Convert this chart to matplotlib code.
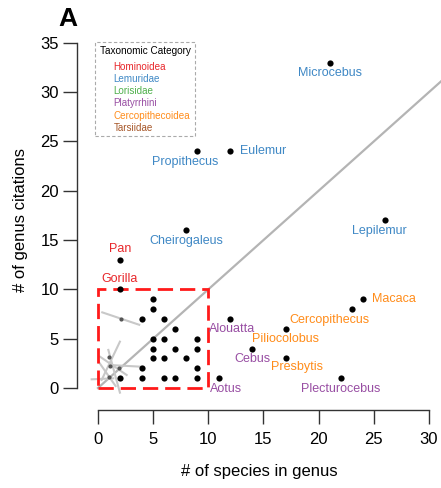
import matplotlib
matplotlib.use('Agg')
import matplotlib.pyplot as plt
from matplotlib.patches import Rectangle

plt.rcParams['font.family'] = ['Liberation Sans', 'DejaVu Sans']

W, H = 441, 488

# taxonomic groups and their colours
groups = ['Hominoidea', 'Lemuridae', 'Lorisidae', 'Platyrrhini',
          'Cercopithecoidea', 'Tarsiidae']
group_colors = ['#e8262a', '#3f88c5', '#4daf4a', '#984ea3', '#ff8c1a', '#a65628']

# labelled genera
genus = ['Microcebus', 'Propithecus', 'Eulemur', 'Cheirogaleus', 'Lepilemur',
         'Pan', 'Gorilla', 'Macaca', 'Cercopithecus', 'Piliocolobus',
         'Presbytis', 'Alouatta', 'Cebus', 'Aotus', 'Plecturocebus']
genus_group = ['Lemuridae', 'Lemuridae', 'Lemuridae', 'Lemuridae', 'Lemuridae',
               'Hominoidea', 'Hominoidea', 'Cercopithecoidea', 'Cercopithecoidea',
               'Cercopithecoidea', 'Cercopithecoidea', 'Platyrrhini',
               'Platyrrhini', 'Platyrrhini', 'Platyrrhini']
genus_species = [21, 9, 12, 8, 26, 2, 2, 24, 23, 17, 17, 12, 14, 11, 22]
genus_citations = [33, 24, 24, 16, 17, 13, 10, 9, 8, 6, 3, 7, 4, 1, 1]

# unlabelled genera inside the 10 x 10 box
other_species = [5, 5, 4, 6, 7, 5, 6, 9, 5, 7, 9, 5, 6, 8, 4, 9, 2, 4, 6, 7, 9]
other_citations = [9, 8, 7, 7, 6, 5, 5, 5, 4, 4, 4, 3, 3, 3, 2, 2, 1, 1, 1, 1, 1]

# faint genera piled up near the origin, with their repel segments
faint_species = [2.06, 1.0, 1.9, 1.0, 1.1]
faint_citations = [7.0, 3.1, 2.0, 1.1, 2.2]
seg_x0 = [0.39, 0.33, 0.94, -0.57, 0.18, 1.09, 0.1]
seg_y0 = [7.67, 0.81, 3.86, 0.88, 3.18, 2.33, 2.6]
seg_x1 = [3.74, 1.99, 1.99, 1.39, 2.6, 3.9, 1.6]
seg_y1 = [6.41, 4.7, -0.47, 0.98, 1.32, 2.16, 0.2]

# label offsets in points (dx, dy, ha)
label_pos = {
    'Microcebus': (0, -7.5, 'center'),
    'Propithecus': (-9, -7.5, 'center'),
    'Eulemur': (7, 0.5, 'left'),
    'Cheirogaleus': (0, -7.5, 'center'),
    'Lepilemur': (-4, -7.5, 'center'),
    'Pan': (0, 7.5, 'center'),
    'Gorilla': (0, 7.5, 'center'),
    'Macaca': (7, 0, 'left'),
    'Cercopithecus': (-16, -7.5, 'center'),
    'Piliocolobus': (0, -7.5, 'center'),
    'Presbytis': (8, -6.5, 'center'),
    'Alouatta': (1, -7.5, 'center'),
    'Cebus': (0, -7.5, 'center'),
    'Aotus': (5, -7.5, 'center'),
    'Plecturocebus': (0, -7.5, 'center'),
}


def px(x, y):
    return x / W, 1 - y / H


fig = plt.figure(figsize=(W / 100, H / 100), dpi=100)
ax = fig.add_axes([77 / W, (H - 410) / H, (W - 77) / W, (410 - 30) / H])
ax.set_xlim(-1.9, 31.09)
ax.set_ylim(-2.23, 36.3)

# identity line
ax.plot([0, 32], [0, 32], color='#b4b4b4', lw=1.6, zorder=1, clip_on=True)

for i in range(len(seg_x0)):
    ax.plot([seg_x0[i], seg_x1[i]], [seg_y0[i], seg_y1[i]],
            color='#c8c8c8', lw=1.5, zorder=1)
ax.scatter(faint_species, faint_citations, s=4, color='#555555', zorder=2)

ax.add_patch(Rectangle((0, 0), 10, 10, fill=False, edgecolor='#ff1a1a',
                       lw=2.0, linestyle=(0, (5.5, 2.5)), zorder=3))

ax.scatter(other_species, other_citations, s=20, color='black', zorder=4,
           linewidths=0)
ax.scatter(genus_species, genus_citations, s=20, color='black', zorder=4,
           linewidths=0)

for name, g, x, y in zip(genus, genus_group, genus_species, genus_citations):
    dx, dy, ha = label_pos[name]
    ax.annotate(name, (x, y), xytext=(dx, dy), textcoords='offset points',
                ha=ha, va='center', fontsize=9,
                color=group_colors[groups.index(g)], zorder=5)

for side in ['top', 'right']:
    ax.spines[side].set_visible(False)
ax.spines['left'].set_bounds(0, 35)
ax.spines['bottom'].set_bounds(0, 30)
for side in ['left', 'bottom']:
    ax.spines[side].set_color('#333333')
    ax.spines[side].set_linewidth(1.0)
ax.set_xticks([0, 5, 10, 15, 20, 25, 30])
ax.set_yticks([0, 5, 10, 15, 20, 25, 30, 35])
ax.tick_params(direction='out', length=10, width=1.0, color='#333333',
               labelsize=12)
ax.tick_params(axis='x', pad=6)
ax.tick_params(axis='y', pad=3)
ax.set_xlabel('# of species in genus', fontsize=12, labelpad=12)
ax.set_ylabel('# of genus citations', fontsize=12, labelpad=9)

# legend box
fig.patches.append(Rectangle(px(95, 136), 100 / W, 94 / H, fill=False,
                             edgecolor='#aaaaaa', lw=0.8, linestyle=(0, (3, 2)),
                             transform=fig.transFigure, figure=fig))
fig.text(*px(100, 51.5), 'Taxonomic Category', fontsize=7.2, va='center',
         ha='left', color='black')
for i, (g, c) in enumerate(zip(groups, group_colors)):
    fig.text(*px(113.5, 66.5 + 12.3 * i), g, fontsize=7.1, va='center',
             ha='left', color=c)

fig.text(*px(68, 19), 'A', fontsize=19, fontweight='bold', ha='center',
         va='center')

fig.savefig('out.png', dpi=100)
